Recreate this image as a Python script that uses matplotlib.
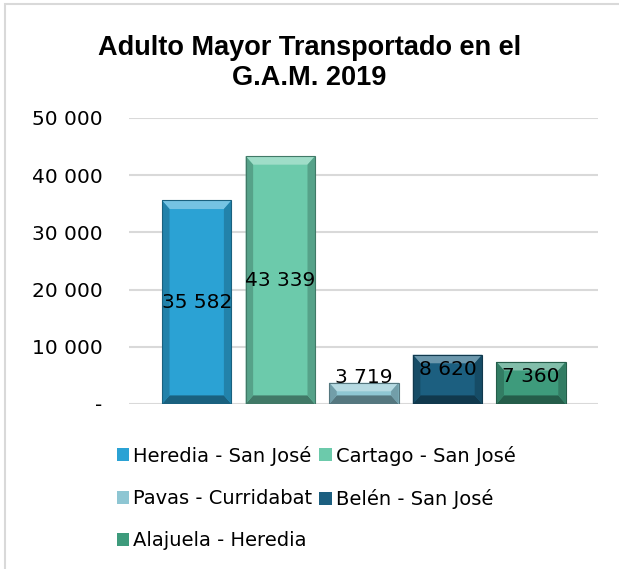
import matplotlib
matplotlib.use('Agg')
from matplotlib import pyplot as plt
from matplotlib.patches import Polygon, Rectangle
import matplotlib.colors as mcolors

routes = ['Heredia - San José', 'Cartago - San José', 'Pavas - Curridabat',
          'Belén - San José', 'Alajuela - Heredia']
passengers = [35582, 43339, 3719, 8620, 7360]
labels = ['35 582', '43 339', '3 719', '8 620', '7 360']
colors = ['#2ba2d4', '#6ccaab', '#8ec6d3', '#1c5f80', '#3e9b7c']
yticks = [0, 10000, 20000, 30000, 40000, 50000]
ytick_labels = ['-', '10 000', '20 000', '30 000', '40 000', '50 000']

fig = plt.figure(figsize=(6.19, 5.69), dpi=100)
ax = fig.add_axes([129/619, 1-404/569, (598-129)/619, 286/569])

# outer chart border (cut off on right and bottom like the source)
fig.patches.append(Rectangle((5/619, -0.1), 1.2, 1.1 - 4/569, transform=fig.transFigure,
                             fill=False, edgecolor='#d9d9d9', linewidth=1.5))

w = 0.83
x = list(range(len(passengers)))
bars = ax.bar(x, passengers, width=w, color=colors, edgecolor='none', zorder=2)

# simple bevel look on each bar
bx = 0.09
by = 1500
for b, c in zip(bars, colors):
    x0, y0 = b.get_x(), b.get_y()
    x1, y1 = x0 + b.get_width(), y0 + b.get_height()
    rgb = mcolors.to_rgb(c)
    light = tuple(v + (1 - v) * 0.35 for v in rgb)
    dark = tuple(v * 0.6 for v in rgb)
    mid = tuple(v * 0.8 for v in rgb)
    ax.add_patch(Polygon([(x0, y1), (x1, y1), (x1 - bx, y1 - by), (x0 + bx, y1 - by)],
                         color=light, zorder=3, lw=0))
    ax.add_patch(Polygon([(x0, y0), (x1, y0), (x1 - bx, y0 + by), (x0 + bx, y0 + by)],
                         color=dark, zorder=3, lw=0))
    ax.add_patch(Polygon([(x1, y0), (x1, y1), (x1 - bx, y1 - by), (x1 - bx, y0 + by)],
                         color=mid, zorder=3, lw=0))
    ax.add_patch(Polygon([(x0, y0), (x0, y1), (x0 + bx, y1 - by), (x0 + bx, y0 + by)],
                         color=mid, zorder=3, lw=0))
    ax.add_patch(Rectangle((x0, y0), x1 - x0, y1 - y0, fill=False,
                           edgecolor=dark, lw=0.8, zorder=4))

for i, v in enumerate(passengers):
    ly = v / 2 if v > 20000 else max(v - 2600, 4550)
    ax.text(i, ly, labels[i], ha='center', va='center', fontsize=14.5, zorder=5)

ax.set_xlim(-0.81, 4.80)
ax.set_ylim(0, 50000)
ax.set_yticks(yticks)
ax.set_yticklabels(ytick_labels, fontsize=14.5)
ax.set_xticks([])
ax.tick_params(axis='y', length=0, pad=19)
ax.grid(axis='y', color='#d9d9d9', linewidth=1.5, zorder=0)
for s in ax.spines.values():
    s.set_visible(False)

fig.text(0.5, 1 - 63/569, 'Adulto Mayor Transportado en el\nG.A.M. 2019', ha='center',
         va='center', fontsize=19.5, fontweight='bold', family='Liberation Sans',
         linespacing=1.2)

order = [0, 2, 4, 1, 3]
leg = ax.legend([bars[i] for i in order], [routes[i] for i in order], ncol=2,
                loc='upper left', bbox_to_anchor=(107/619, 1 - 436/569),
                bbox_transform=fig.transFigure, frameon=False, fontsize=14,
                handlelength=0.65, handleheight=0.65, handletextpad=0.2,
                columnspacing=0.35, labelspacing=1.2, borderpad=0)

plt.savefig('out.png', dpi=100)
